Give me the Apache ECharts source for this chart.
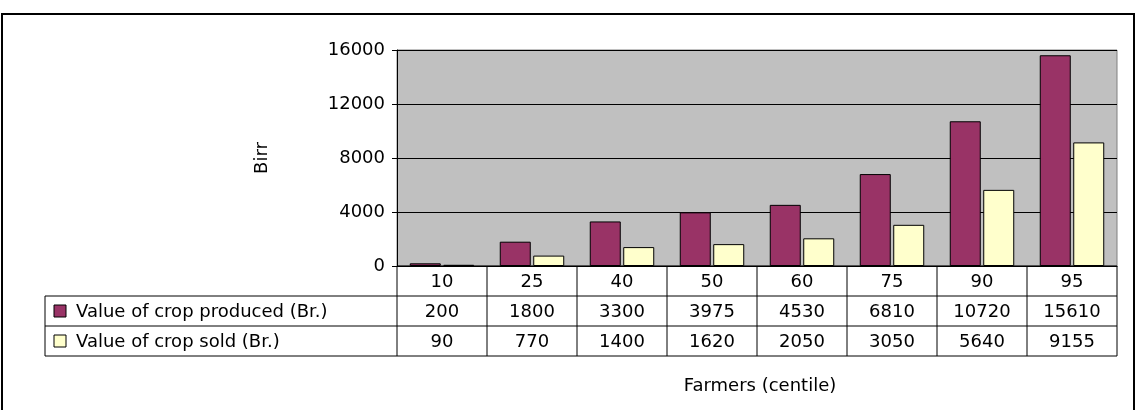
<!DOCTYPE html>
<html><head><meta charset="utf-8">
<script src="https://cdn.jsdelivr.net/npm/echarts@6/dist/echarts.min.js"></script>
<style>html,body{margin:0;padding:0;background:#fff}#c{width:1138px;height:410px}</style>
</head><body><div id="c"></div>
<script>
const categories = ['10', '25', '40', '50', '60', '75', '90', '95'];
const produced = [200, 1800, 3300, 3975, 4530, 6810, 10720, 15610];
const sold = [90, 770, 1400, 1620, 2050, 3050, 5640, 9155];
const seriesNames = ['Value of crop produced (Br.)', 'Value of crop sold (Br.)'];
const colors = ['#993366', '#ffffcc'];

// layout
const L = 397, R = 1117, T = 50, B = 266, rowH = 30, tabL = 45;
const cw = (R - L) / categories.length;
const fam = '"DejaVu Sans", Verdana, sans-serif';
const font = '18px ' + fam;

const g = [];
// outer frame
g.push({ type: 'polyline', shape: { points: [[2, 420], [2, 14], [1134, 14], [1134, 420]] }, style: { stroke: '#000', lineWidth: 2, fill: null } });
// table lines
for (let r = 0; r <= 3; r++) {
  const y = B + r * rowH;
  g.push({ type: 'line', shape: { x1: r === 0 ? L : tabL, y1: y, x2: R, y2: y }, style: { stroke: '#000', lineWidth: 1 } });
}
for (let i = 0; i <= categories.length; i++) {
  const x = L + i * cw;
  g.push({ type: 'line', shape: { x1: x, y1: B, x2: x, y2: B + 3 * rowH }, style: { stroke: '#000', lineWidth: 1 } });
}
g.push({ type: 'line', shape: { x1: tabL, y1: B + rowH, x2: tabL, y2: B + 3 * rowH }, style: { stroke: '#000', lineWidth: 1 } });
const rows = [categories, produced, sold];
rows.forEach((row, r) => {
  row.forEach((v, i) => {
    g.push({ type: 'text', x: L + (i + 0.5) * cw, y: B + (r + 0.5) * rowH + 1, style: { text: String(v), font: font, fill: '#000', align: 'center', verticalAlign: 'middle' } });
  });
});
seriesNames.forEach((n, k) => {
  const y = B + (k + 1.5) * rowH;
  g.push({ type: 'rect', shape: { x: 54, y: y - 6, width: 12, height: 12 }, style: { fill: colors[k], stroke: '#000', lineWidth: 1 } });
  g.push({ type: 'text', x: 76, y: y + 1, style: { text: n, font: font, fill: '#000', verticalAlign: 'middle' } });
});
g.push({ type: 'text', x: 760, y: 386, style: { text: 'Farmers (centile)', font: font, fill: '#000', align: 'center', verticalAlign: 'middle' } });
g.push({ type: 'text', x: 262, y: 158, rotation: Math.PI / 2, style: { text: 'Birr', font: font, fill: '#000', align: 'center', verticalAlign: 'middle' } });

const chart = echarts.init(document.getElementById('c'));
chart.setOption({
  animation: false,
  grid: { left: L, right: 1138 - R, top: T, bottom: 410 - B, show: true, backgroundColor: '#c0c0c0', borderColor: '#808080', borderWidth: 1 },
  xAxis: { type: 'category', data: categories, axisLabel: { show: false }, axisTick: { show: false }, axisLine: { lineStyle: { color: '#000' } } },
  yAxis: {
    type: 'value', min: 0, max: 16000, interval: 4000,
    axisLine: { show: true, lineStyle: { color: '#000' } },
    axisTick: { show: true, length: 5, lineStyle: { color: '#000' } },
    axisLabel: { color: '#000', fontSize: 18, fontFamily: fam, margin: 12, formatter: v => String(v) },
    splitLine: { lineStyle: { color: '#000', width: 1 } }
  },
  series: [
    { name: seriesNames[0], type: 'bar', data: produced, barWidth: 31, barGap: '8%', itemStyle: { color: colors[0], borderColor: '#000', borderWidth: 1 } },
    { name: seriesNames[1], type: 'bar', data: sold, barWidth: 31, itemStyle: { color: colors[1], borderColor: '#000', borderWidth: 1 } }
  ],
  graphic: g
});
</script></body></html>
